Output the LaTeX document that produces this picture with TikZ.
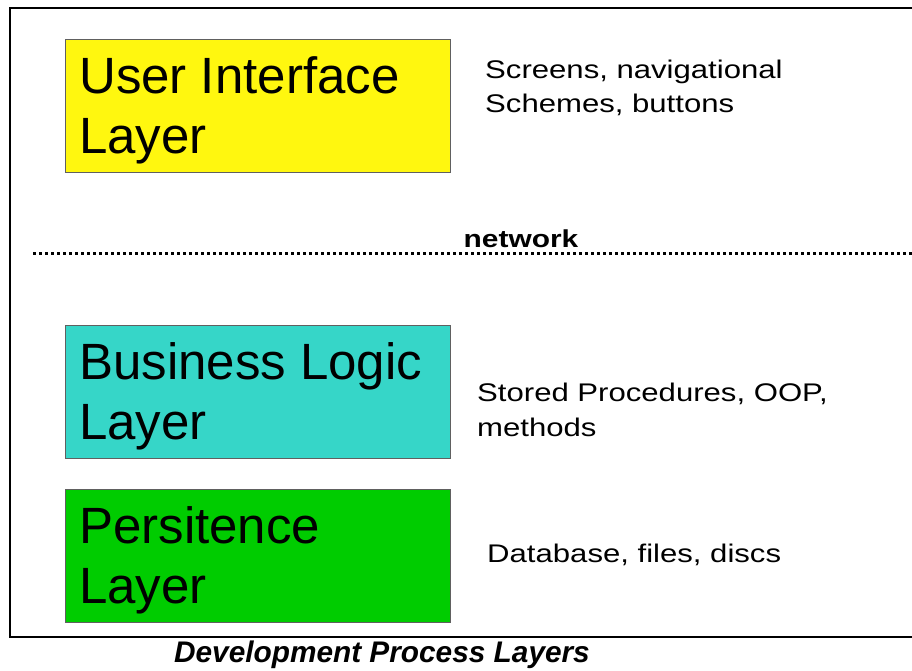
\documentclass[tikz,border=0pt]{standalone}
\usepackage{fontspec}
\setmainfont{Liberation Sans}
\newfontfamily\widefont[FakeStretch=1.22]{Liberation Sans}
\definecolor{uiyellow}{RGB}{255,247,15}
\definecolor{blteal}{RGB}{54,214,200}
\definecolor{pgreen}{RGB}{0,204,0}
\definecolor{boxedge}{RGB}{96,96,96}
\begin{document}
\begin{tikzpicture}[x=1pt,y=-1pt,
  layerbox/.style={draw=boxedge,line width=1pt,minimum width=385pt,minimum height=133pt,
    anchor=north west,inner sep=0pt,outer sep=0pt},
  bigtext/.style={anchor=base west,inner sep=0pt,align=left,
    font=\fontsize{51}{60}\selectfont},
  notetext/.style={anchor=base west,inner sep=0pt,align=left,
    font=\widefont\fontsize{25.5}{34.5}\selectfont},
  frameline/.style={line width=2pt,black}]
\useasboundingbox (0,0) rectangle (912,670);
\fill[white] (0,0) rectangle (912,670);

% outer frame, open on the right
\coordinate (ftr) at (914,8);
\coordinate (ftl) at (10,8);
\coordinate (fbl) at (10,637);
\coordinate (fbr) at (914,637);
\draw[frameline] (ftr) -- (ftl) -- (fbl) -- (fbr);

% layer boxes
\node[layerbox,fill=uiyellow] (ui) at (65,39) {};
\node[layerbox,fill=blteal] (bl) at (65,325) {};
\node[layerbox,fill=pgreen] (pl) at (65,489) {};

% multi-line texts are placed by the baseline of their last line
\node[bigtext] (uitext) at (79,153) {User Interface\\Layer};
\node[bigtext] (bltext) at (79,439) {Business Logic\\Layer};
\node[bigtext] (pltext) at (79,603) {Persitence\\Layer};

% descriptions
\node[notetext] (uinote) at (485,112.5) {Screens, navigational\\Schemes, buttons};
\node[notetext] (blnote) at (477,436) {Stored Procedures, OOP,\\methods};
\node[notetext] (plnote) at (487,562) {Database, files, discs};

% network boundary: square dots
\coordinate (netl) at (33,253);
\coordinate (netr) at (912,253);
\draw[line width=3pt,dash pattern=on 3pt off 3pt] (netl) -- (netr);
\node[anchor=base,inner sep=0pt,font=\widefont\bfseries\fontsize{24.5}{30}\selectfont] (net) at (521,247) {network};

% caption
\node[anchor=base,inner sep=0pt,font=\bfseries\itshape\fontsize{29.8}{36}\selectfont] (caption) at (382,662) {Development Process Layers};
\end{tikzpicture}
\end{document}
